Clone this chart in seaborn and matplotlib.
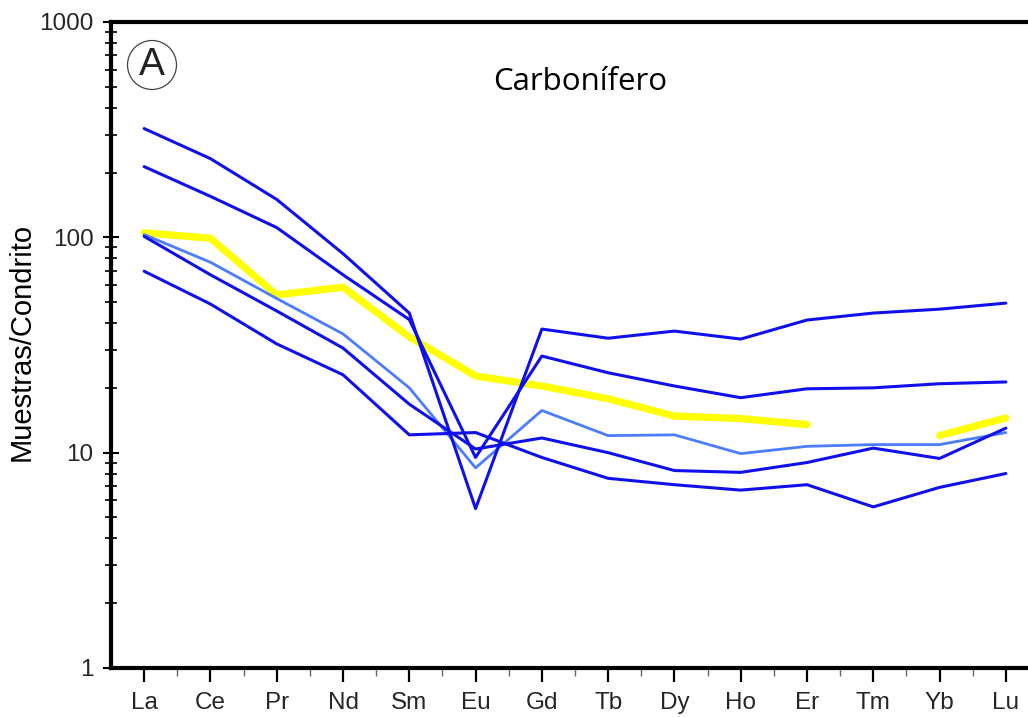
import numpy as np
import pandas as pd
import matplotlib
matplotlib.use("Agg")
import matplotlib.pyplot as plt
from matplotlib.patches import Circle
from matplotlib.ticker import FixedLocator, LogLocator, NullFormatter
import seaborn as sns

# Chondrite-normalised REE patterns, Carboniferous samples
elements = ["La", "Ce", "Pr", "Nd", "Sm", "Eu", "Gd", "Tb", "Dy", "Ho", "Er", "Tm", "Yb", "Lu"]

sample_1 = [320, 232, 150, 84, 44.5, 5.5, 37.5, 34, 36.7, 33.7, 41.3, 44.5, 46.4, 49.5]
sample_2 = [213, 155, 111, 67, 41.5, 9.5, 28.1, 23.5, 20.4, 18.0, 19.8, 20.0, 20.9, 21.3]
sample_3 = [103, 76.6, 52, 35.6, 20.0, 8.5, 15.7, 12.0, 12.1, 9.9, 10.7, 10.9, 10.9, 12.4]
sample_4 = [101, 67, 45.5, 30.6, 16.8, 10.4, 11.7, 10.0, 8.26, 8.1, 9.0, 10.5, 9.4, 13.0]
sample_5 = [69.6, 49, 32, 23, 12.1, 12.4, 9.5, 7.6, 7.1, 6.7, 7.1, 5.6, 6.9, 8.0]
reference = [105, 99, 54, 58.7, 34.5, 22.7, 20.4, 17.8, 14.8, 14.4, 13.5, np.nan, 12.0, 14.5]

DARK_BLUE = "#1010ee"
LIGHT_BLUE = "#4a7dff"
YELLOW = "#ffff00"

sns.set_theme(style="white")
plt.rcParams["font.family"] = ["Liberation Sans", "DejaVu Sans"]

fig = plt.figure(figsize=(10.28, 7.17), dpi=100)
ax = fig.add_axes([111 / 1028, 49 / 717, 928 / 1028, 646 / 717])

pos = np.arange(len(elements))

# reference pattern, broken where Tm is missing
ref = pd.DataFrame({"pos": pos, "val": reference})
ref["piece"] = ref["val"].isna().cumsum()
ref = ref.dropna()
sns.lineplot(data=ref, x="pos", y="val", units="piece", estimator=None,
             color=YELLOW, linewidth=5.2, ax=ax, zorder=2)

sns.lineplot(x=pos, y=sample_3, color=LIGHT_BLUE, linewidth=2.0, ax=ax, zorder=3)
for s in (sample_1, sample_2, sample_4, sample_5):
    sns.lineplot(x=pos, y=s, color=DARK_BLUE, linewidth=2.2, ax=ax, zorder=4)

ax.set_yscale("log")
ax.set_ylim(1, 1000)
ax.set_xlim(-0.5, 13.5)

ax.set_xticks(pos)
ax.set_xticklabels(elements)
ax.xaxis.set_minor_locator(FixedLocator(np.arange(0.5, 13.0, 1.0)))
ax.set_yticks([1, 10, 100, 1000])
ax.set_yticklabels(["1", "10", "100", "1000"])
ax.yaxis.set_minor_locator(LogLocator(base=10, subs=np.arange(2, 10)))
ax.yaxis.set_minor_formatter(NullFormatter())

ax.set_xlabel("")
ax.set_ylabel("")

for side in ("left", "top", "bottom"):
    ax.spines[side].set_visible(True)
    ax.spines[side].set_color("black")
    ax.spines[side].set_linewidth(3.0)
ax.spines["right"].set_visible(False)

ax.tick_params(axis="x", which="major", direction="out", length=10, width=1.6,
               color="black", pad=7, labelsize=17.5, bottom=True)
ax.tick_params(axis="x", which="minor", direction="out", length=5.5, width=1.0,
               color="#666666", bottom=True)
ax.tick_params(axis="y", which="major", direction="inout", length=11, width=1.5,
               color="black", pad=7, labelsize=17.5, left=True)
ax.tick_params(axis="y", which="minor", direction="inout", length=8, width=1.2,
               color="black", left=True)
ax.grid(False)

fig.text(22 / 1028, 1 - 342 / 717, "Muestras/Condrito", rotation=90,
         ha="center", va="center", fontsize=21, color="black")

fig.text(580 / 1028, 1 - 82 / 717, "Carbonífero", ha="center", va="center",
         fontsize=22.5, color="black", family=["Open Sans", "DejaVu Sans"])

# panel letter in a circle
cx, cy = 152 / 100, (717 - 65) / 100
fig.add_artist(Circle((cx, cy), 0.245, transform=fig.dpi_scale_trans,
                      fill=False, edgecolor="#444444", linewidth=0.9))
fig.text(cx, cy, "A", transform=fig.dpi_scale_trans, ha="center", va="center",
         fontsize=28, color="#222222")

fig.savefig("out.png", dpi=100)
